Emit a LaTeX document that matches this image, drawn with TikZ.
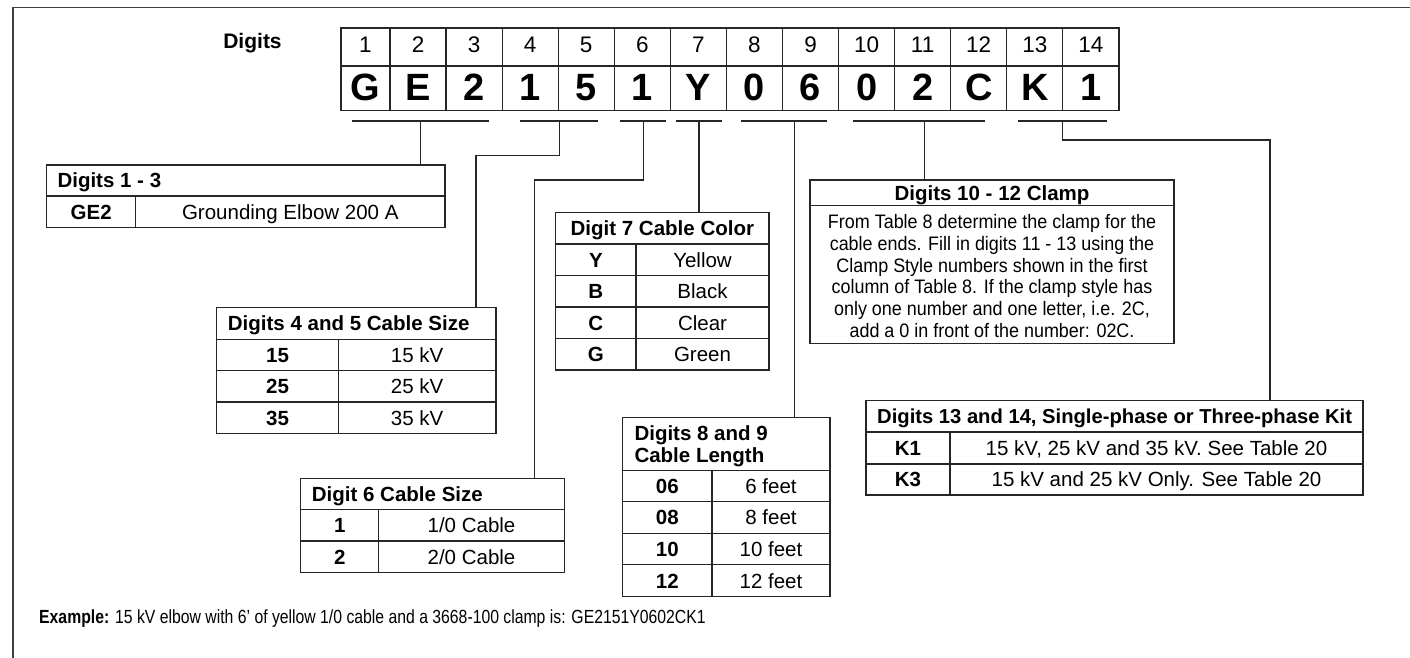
\documentclass[tikz,border=0pt]{standalone}
\usepackage{fontspec}
\setmainfont{Liberation Sans}
\usepackage{graphicx}
\begin{document}
\begin{tikzpicture}[x=1pt,y=-1pt]
\tikzset{
  ln/.style={line width=1.2pt, draw=black!85},
  frm/.style={line width=1.6pt, draw=black!75},
  tbox/.style={ln, draw, inner sep=0pt, outer sep=0pt, anchor=north west},
  hd/.style={inner sep=0pt, text height=14.7pt, text depth=0pt, font=\fontsize{20.5}{24}\selectfont\bfseries},
  kb/.style={inner sep=0pt, text height=14.7pt, text depth=0pt, font=\fontsize{20.5}{24}\selectfont\bfseries},
  vt/.style={inner sep=0pt, text height=14.7pt, text depth=0pt, font=\fontsize{20.5}{24}\selectfont},
  dnum/.style={inner sep=0pt, text height=16.1pt, text depth=0pt, font=\fontsize{22.5}{26}\selectfont},
  dlet/.style={inner sep=0pt, text height=27.2pt, text depth=0pt, font=\fontsize{38}{42}\selectfont\bfseries},
}
\useasboundingbox (0,0) rectangle (1410,658);
% frame
\draw[frm] (13,658) -- (13,7.5) -- (1410,7.5);

% Digits label and grid
\node[hd, font=\fontsize{21}{24}\selectfont\bfseries] (dlab) at (252.5,41) {Digits};
\node[tbox, minimum width=778pt, minimum height=82.7pt] (DG) at (341,28) {};
\draw[ln] (DG.west |- 0,66) -- (DG.east |- 0,66);
\foreach \k in {0,...,12} \draw[ln] ({390+56.07*\k},28) -- ({390+56.07*\k},110.7);
\foreach \i/\c in {1/G,2/E,3/2,4/1,5/5,6/1,7/Y,8/0,9/6,10/0,11/2,12/C,13/K,14/1} {
  \pgfmathsetmacro\cx{\i==1 ? 365.5 : 390+56.07*(\i-1.5)}
  \node[dnum] (n\i) at (\cx,44) {\i};
  \node[dlet] (l\i) at (\cx,87) {\c};
}

% bracket points
\coordinate (bk1) at (420.7,121);
\coordinate (bk2) at (559.3,121);
\coordinate (bk3) at (643.3,121);
\coordinate (bk4) at (699,121);
\coordinate (bk5) at (794.7,121);
\coordinate (bk6) at (924.3,121);
\coordinate (bk7) at (1062.7,121);
\draw[ln] (bk1 -| 352.3,0) -- (bk1 -| 489,0);
\draw[ln] (bk2 -| 520,0) -- (bk2 -| 598.3,0);
\draw[ln] (bk3 -| 620,0) -- (bk3 -| 666,0);
\draw[ln] (bk4 -| 676,0) -- (bk4 -| 722.3,0);
\draw[ln] (bk5 -| 741,0) -- (bk5 -| 826.7,0);
\draw[ln] (bk6 -| 853.3,0) -- (bk6 -| 985,0);
\draw[ln] (bk7 -| 1018.3,0) -- (bk7 -| 1107.3,0);
\coordinate (j2) at (476,155.7);
\coordinate (j3) at (534.3,180);
\coordinate (j7) at (1270,140);

% Table 1: Digits 1 - 3
\node[tbox, minimum width=398.3pt, minimum height=62.7pt] (T1) at (46.7,165) {};
\draw[ln] (T1.west |- 0,196) -- (T1.east |- 0,196);
\draw[ln] (135.7,196) -- (T1.south -| 135.7,0);
\node[hd, anchor=west] (T1h) at (57.3,180.5) {Digits 1 - 3};
\node[kb] (T1k) at (91.2,211.9) {GE2};
\node[vt] (T1v) at (290.3,211.9) {Grounding Elbow 200 A};

% Table 2: Digits 4 and 5
\node[tbox, minimum width=279.3pt, minimum height=125.6pt] (T2) at (216.7,307.7) {};
\foreach \yy in {339.3,370.7,402} \draw[ln] (T2.west |- 0,\yy) -- (T2.east |- 0,\yy);
\draw[ln] (338.3,339.3) -- (T2.south -| 338.3,0);
\node[hd, anchor=west] (T2h) at (227.7,323.5) {Digits 4 and 5 Cable Size};
\node[kb] (T2k1) at (277.5,355) {15};
\node[vt] (T2v1) at (417.2,355) {15 kV};
\node[kb] (T2k2) at (277.5,386.35) {25};
\node[vt] (T2v2) at (417.2,386.35) {25 kV};
\node[kb] (T2k3) at (277.5,417.65) {35};
\node[vt] (T2v3) at (417.2,417.65) {35 kV};

% Table 3: Digit 6
\node[tbox, minimum width=263.6pt, minimum height=94pt] (T3) at (300.7,478.3) {};
\foreach \yy in {509.3,541} \draw[ln] (T3.west |- 0,\yy) -- (T3.east |- 0,\yy);
\draw[ln] (378.7,509.3) -- (T3.south -| 378.7,0);
\node[hd, anchor=west] (T3h) at (311.7,493.8) {Digit 6 Cable Size};
\node[kb] (T3k1) at (339.7,525.15) {1};
\node[vt] (T3v1) at (471.5,525.15) {1/0 Cable};
\node[kb] (T3k2) at (339.7,556.65) {2};
\node[vt] (T3v2) at (471.5,556.65) {2/0 Cable};

% Table 4: Digit 7
\node[tbox, minimum width=213.3pt, minimum height=157.7pt] (T4) at (555.7,212.3) {};
\foreach \yy in {244,275.7,307,338.3} \draw[ln] (T4.west |- 0,\yy) -- (T4.east |- 0,\yy);
\draw[ln] (636,244) -- (T4.south -| 636,0);
\node[hd] (T4h) at (662.35,228.15) {Digit 7 Cable Color};
\node[kb] (T4k1) at (595.85,259.85) {Y};
\node[vt] (T4v1) at (702.5,259.85) {Yellow};
\node[kb] (T4k2) at (595.85,291.35) {B};
\node[vt] (T4v2) at (702.5,291.35) {Black};
\node[kb] (T4k3) at (595.85,322.65) {C};
\node[vt] (T4v3) at (702.5,322.65) {Clear};
\node[kb] (T4k4) at (595.85,354.15) {G};
\node[vt] (T4v4) at (702.5,354.15) {Green};

% Table 5: Digits 8 and 9
\node[tbox, minimum width=207.3pt, minimum height=179.4pt] (T5) at (622.7,417.3) {};
\foreach \yy in {470.7,501.7,533.3,564.7} \draw[ln] (T5.west |- 0,\yy) -- (T5.east |- 0,\yy);
\draw[ln] (712,470.7) -- (T5.south -| 712,0);
\node[anchor=north west, inner sep=0pt, font=\fontsize{20.5}{21.7}\selectfont\bfseries] (T5h) at (634.3,425.5)
  {\begin{tabular}{@{}l@{}}Digits 8 and 9\\Cable Length\end{tabular}};
\node[kb] (T5k1) at (667.35,486.2) {06};
\node[vt] (T5v1) at (771,486.2) {6 feet};
\node[kb] (T5k2) at (667.35,517.5) {08};
\node[vt] (T5v2) at (771,517.5) {8 feet};
\node[kb] (T5k3) at (667.35,549) {10};
\node[vt] (T5v3) at (771,549) {10 feet};
\node[kb] (T5k4) at (667.35,580.7) {12};
\node[vt] (T5v4) at (771,580.7) {12 feet};

% Table 6: Clamp
\node[tbox, minimum width=364pt, minimum height=163.3pt] (T6) at (810,180) {};
\draw[ln] (T6.west |- 0,205.7) -- (T6.east |- 0,205.7);
\node[hd] (T6h) at (992,192.85) {Digits 10 - 12 Clamp};
\node[anchor=north, inner sep=0pt, font=\fontsize{19.5}{21.7}\selectfont] (T6b) at (992,213.5)
  {\scalebox{0.92}[1]{\begin{tabular}{@{}c@{}}From Table 8 determine the clamp for the\\
   cable ends. Fill in digits 11 - 13 using the\\
   Clamp Style numbers shown in the first\\
   column of Table 8. If the clamp style has\\
   only one number and one letter, i.e. 2C,\\
   add a 0 in front of the number: 02C.\end{tabular}}};

% Table 7: Digits 13 and 14
\node[tbox, minimum width=497pt, minimum height=94.3pt] (T7) at (866,400.7) {};
\foreach \yy in {432,464} \draw[ln] (T7.west |- 0,\yy) -- (T7.east |- 0,\yy);
\draw[ln] (950,432) -- (T7.south -| 950,0);
\node[hd, anchor=west, font=\fontsize{20.2}{24}\selectfont\bfseries] (T7h) at (877,416.35) {Digits 13 and 14, Single-phase or Three-phase Kit};
\node[kb] (T7k1) at (908,448) {K1};
\node[vt] (T7v1) at (1156.5,448) {15 kV, 25 kV and 35 kV. See Table 20};
\node[kb] (T7k2) at (908,479.5) {K3};
\node[vt] (T7v2) at (1156.5,479.5) {15 kV and 25 kV Only. See Table 20};

% connectors
\draw[ln] (bk1) -- (bk1 |- T1.north);
\draw[ln] (bk2) |- (j2) -- (j2 |- T2.north);
\draw[ln] (bk3) |- (j3) -- (j3 |- T3.north);
\draw[ln] (bk4) -- (bk4 |- T4.north);
\draw[ln] (bk5) -- (bk5 |- T5.north);
\draw[ln] (bk6) -- (bk6 |- T6.north);
\draw[ln] (bk7) |- (j7) -- (j7 |- T7.north);

% example
\node[anchor=west, inner sep=0pt, text height=13.6pt, text depth=0pt] (ex) at (39,617)
  {\scalebox{0.83}[1]{\fontsize{19}{22}\selectfont\textbf{Example:} 15 kV elbow with 6’ of yellow 1/0 cable and a 3668-100 clamp is: GE2151Y0602CK1}};
\end{tikzpicture}
\end{document}
